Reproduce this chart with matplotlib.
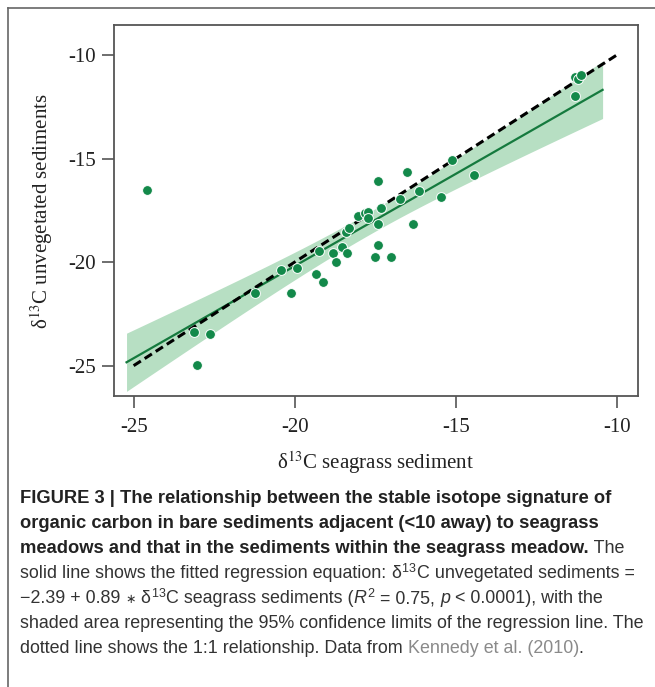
import numpy as np
import matplotlib
matplotlib.use("Agg")
import matplotlib.pyplot as plt
from matplotlib.lines import Line2D

# ---------------- data ----------------
seagrass = [-24.58, -23.12, -22.63, -23.02, -21.23, -20.42, -20.12, -19.93,
            -19.33, -19.13, -19.23, -18.82, -18.72, -18.52, -18.37, -18.40,
            -18.31, -18.02, -17.81, -17.73, -17.71, -17.52, -17.42, -17.42,
            -17.42, -17.32, -17.02, -16.72, -16.52, -16.32, -16.13, -15.47,
            -15.11, -14.42, -11.30, -11.19, -11.11, -11.30]
unvegetated = [-16.52, -23.39, -23.47, -24.98, -21.48, -20.38, -21.49, -20.27,
               -20.57, -20.98, -19.46, -19.58, -19.98, -19.27, -19.58, -18.53,
               -18.37, -17.76, -17.64, -17.57, -17.86, -19.77, -16.07, -18.16,
               -19.17, -17.37, -19.77, -16.97, -15.66, -18.16, -16.55, -16.87,
               -15.07, -15.78, -11.08, -11.17, -10.95, -11.97]
intercept = -2.39
slope = 0.89
fit_range = [-25.22, -10.44]
one_to_one = [-25.0, -10.0]
ticks = [-25, -20, -15, -10]

# ---------------- style ----------------
plt.rcParams["axes.unicode_minus"] = False
plt.rcParams["mathtext.fontset"] = "custom"
cap_family = "Liberation Sans"
plt.rcParams["mathtext.rm"] = cap_family
plt.rcParams["mathtext.it"] = cap_family + ":italic"
plt.rcParams["mathtext.bf"] = cap_family + ":bold"

W, H = 655, 687
fig = plt.figure(figsize=(W / 100, H / 100), dpi=100)
fig.patch.set_facecolor("white")

ax = fig.add_axes([114.3 / W, 1 - 395.7 / H, (637.7 - 114.3) / W, (395.7 - 25) / H])
ax.set_xlim(-25.60, -9.35)
ax.set_ylim(-26.45, -8.55)

x = np.array(seagrass)
y = np.array(unvegetated)
n = len(x)
resid = y - (intercept + slope * x)
s = np.sqrt(np.sum(resid ** 2) / (n - 2))
xbar = x.mean()
sxx = np.sum((x - xbar) ** 2)
tval = 2.028
xf = np.linspace(fit_range[0], fit_range[1], 200)
yf = intercept + slope * xf
half = tval * s * np.sqrt(1.0 / n + (xf - xbar) ** 2 / sxx)

ax.fill_between(xf, yf - half, yf + half, color="#b7dfc3", lw=0, zorder=1)
ax.plot(xf, yf, color="#157a3e", lw=1.6, zorder=2)
ax.plot(one_to_one, one_to_one, color="black", lw=2.2, dashes=(2.8, 1.5), zorder=3)
ax.scatter(x, y, s=50, color="#13894a", edgecolor="white", linewidth=0.7, zorder=4)

for sp in ax.spines.values():
    sp.set_color("#555555")
    sp.set_linewidth(1.3)
ax.set_xticks(ticks)
ax.set_yticks(ticks)
ax.set_xticklabels([str(t) for t in ticks])
ax.set_yticklabels([str(t) for t in ticks])
ax.tick_params(direction="out", length=8.5, width=1.2, color="#555555")
ax.tick_params(axis="x", pad=7.5)
ax.tick_params(axis="y", pad=5)
for lab in ax.get_xticklabels() + ax.get_yticklabels():
    lab.set_fontfamily("Liberation Serif")
    lab.set_fontsize(15)
    lab.set_color("#222222")

fig.text(375.5 / W, 1 - 463 / H, "δ$^{13}$C seagrass sediment", ha="center", va="center",
         family="Liberation Serif", fontsize=15, color="#222222", math_fontfamily="stix")
fig.text(42 / W, 1 - 211 / H, "δ$^{13}$C unvegetated sediments", ha="center", va="center",
         rotation=90, family="Liberation Serif", fontsize=15, color="#222222",
         math_fontfamily="stix")

# ---------------- frame box ----------------
fig.add_artist(Line2D([7.7 / W, 1.0], [1 - 8.3 / H, 1 - 8.3 / H], transform=fig.transFigure,
                      color="#666666", lw=1.2))
fig.add_artist(Line2D([7.7 / W, 7.7 / W], [1 - 8.3 / H, 0.0], transform=fig.transFigure,
                      color="#666666", lw=1.2))

# ---------------- caption ----------------
DARK = "#222222"
TXT = "#333333"
GREY = "#8a8a8a"
# (text, weight, style, colour, relative size)
caption_lines = [
    [("FIGURE 3 | The relationship between the stable isotope signature of", "bold", "normal", DARK, 1.0)],
    [("organic carbon in bare sediments adjacent (<10 away) to seagrass", "bold", "normal", DARK, 1.0)],
    [("meadows and that in the sediments within the seagrass meadow.", "bold", "normal", DARK, 1.0),
     (" The", "normal", "normal", TXT, 1.0)],
    [("solid line shows the fitted regression equation: ", "normal", "normal", TXT, 1.0),
     ("δ", "normal", "normal", TXT, 1.0), ("$^{13}$", "normal", "normal", TXT, 1.0),
     ("C unvegetated sediments =", "normal", "normal", TXT, 1.0)],
    [("−2.39 + 0.89 ", "normal", "normal", TXT, 1.0), ("∗", "normal", "normal", TXT, 0.7),
     (" δ", "normal", "normal", TXT, 1.0), ("$^{13}$", "normal", "normal", TXT, 1.0),
     ("C seagrass sediments (", "normal", "normal", TXT, 1.0),
     ("R", "normal", "italic", TXT, 1.0), ("$^{2}$", "normal", "normal", TXT, 1.0),
     (" = 0.75, ", "normal", "normal", TXT, 1.0),
     ("p", "normal", "italic", TXT, 1.0),
     (" < 0.0001), with the", "normal", "normal", TXT, 1.0)],
    [("shaded area representing the 95% confidence limits of the regression line. The", "normal", "normal", TXT, 1.0)],
    [("dotted line shows the 1:1 relationship. Data from ", "normal", "normal", TXT, 1.0),
     ("Kennedy et al. (2010)", "normal", "normal", GREY, 1.0),
     (".", "normal", "normal", TXT, 1.0)],
]

renderer = fig.canvas.get_renderer()


def fit_size(txt, weight, target):
    probe = fig.text(0, 0, txt, family=[cap_family, "DejaVu Sans"], fontsize=10, weight=weight)
    w = probe.get_window_extent(renderer).width
    probe.remove()
    return 10 * target / w


size_bold = fit_size(caption_lines[0][0][0], "bold", 594.0)
size_reg = fit_size(caption_lines[5][0][0], "normal", 626.0)

x0 = 20.0
baselines = [503, 528, 553, 578, 603, 628, 653]
for line, yb in zip(caption_lines, baselines):
    xc = x0
    for txt, wt, st, col, rel in line:
        sz = (size_bold if wt == "bold" else size_reg) * rel
        t = fig.text(xc / W, 1 - yb / H, txt, family=[cap_family, "DejaVu Sans"],
                     fontsize=sz, weight=wt, style=st, color=col,
                     ha="left", va="baseline", math_fontfamily="custom")
        xc += t.get_window_extent(renderer).width

fig.savefig("out.png", dpi=100, facecolor="white")
